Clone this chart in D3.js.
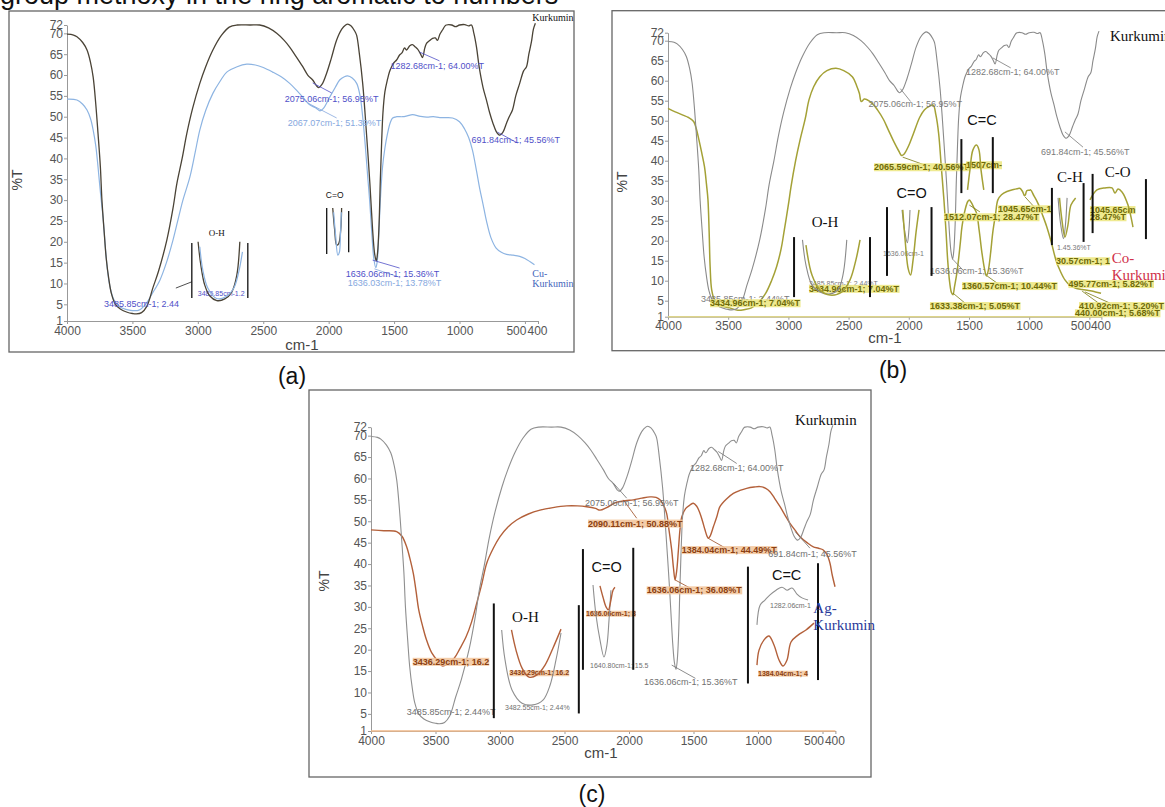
<!DOCTYPE html>
<html>
<head>
<meta charset="utf-8">
<script src="https://cdn.jsdelivr.net/npm/d3@7"></script>
<style>
  body { margin: 0; background: #fff; }
  svg { display: block; }
  text { font-family: Arial, "Liberation Sans", sans-serif; }
</style>
</head>
<body>
<svg id="chart" width="1165" height="807"></svg>
<script>
// ---- Axis ticks ----
const xTicks = [4000, 3500, 3000, 2500, 2000, 1500, 1000, 500, 400];
const yTicks = [1, 5, 10, 15, 20, 25, 30, 35, 40, 45, 50, 55, 60, 65, 70, 72];

// ---- Spectra: [wavenumber cm-1, %T] ----
const kurkumin = [[4000,69.8],[3950,69.6],[3924,69.2],[3880,67.8],[3847,66],[3820,63],[3800,59.5],[3780,53],[3763,46],[3745,38],[3733,30],[3715,22],[3700,16],[3680,11],[3660,7.5],[3630,5],[3590,3.8],[3540,3.1],[3500,2.8],[3470,2.7],[3430,3],[3390,4.5],[3343,9],[3300,13],[3237,20.4],[3190,28],[3160,34],[3120,40],[3084,46],[3040,52],[2985,58],[2940,62],[2885,66],[2820,69.5],[2760,71.5],[2700,72],[2600,72],[2527,72],[2460,71.3],[2397,70],[2340,68.3],[2298,66.7],[2250,64.5],[2198,62],[2160,60],[2122,58.8],[2090,57.3],[2075,57],[2050,57.8],[2015,60.5],[1980,64],[1939,68.4],[1900,71],[1870,72],[1855,72.2],[1830,71.8],[1800,70.5],[1786,69.5],[1765,65],[1740,58],[1720,50],[1702,42],[1685,34],[1672,27],[1660,21],[1648,17],[1636,15.4],[1626,17.5],[1615,24],[1605,35],[1595,44],[1585,51],[1570,56],[1550,59],[1535,60.8],[1519,62],[1500,63],[1481,63.6],[1458,64.8],[1440,65.3],[1420,66.5],[1405,66],[1380,67],[1360,67.3],[1340,66.8],[1320,66.2],[1300,65.2],[1283,64.2],[1265,66.5],[1252,67.6],[1230,68.2],[1206,68.8],[1185,68.9],[1168,68.3],[1150,69.8],[1130,70.8],[1110,71.8],[1100,72],[1060,72],[1030,71.6],[1000,72],[960,72.1],[930,71.8],[909,72],[890,70],[870,66.7],[850,62],[820,57],[794,54],[770,51],[745,48.5],[720,46.5],[700,45.7],[692,45.6],[670,46.2],[640,48.5],[620,50],[595,51.6],[570,55],[540,58],[510,61],[488,62],[470,65],[450,68],[435,71],[420,72.4]];

const cuKurkumin = [[4000,54.2],[3924,54],[3880,53],[3847,51.6],[3820,49.5],[3800,46.8],[3780,43],[3763,38],[3745,32],[3725,26],[3705,18],[3690,13],[3670,9],[3640,6],[3600,4.5],[3550,3.8],[3500,3.5],[3450,3.6],[3400,5],[3350,7.5],[3290,10.8],[3240,15],[3190,20.4],[3150,25.5],[3114,30],[3061,35.5],[3020,41.5],[2985,46.8],[2940,51.5],[2885,55.6],[2830,58.5],[2779,60.7],[2700,62],[2626,62.6],[2560,62.4],[2500,61.8],[2428,60.7],[2360,59.5],[2298,58],[2250,56.5],[2198,54.7],[2150,53],[2092,52],[2067,51.4],[2040,52],[1992,54.7],[1950,57],[1916,58.8],[1880,59.6],[1855,59.8],[1820,59.3],[1786,58],[1760,55],[1740,50],[1720,43],[1700,35],[1687,30],[1670,22],[1655,16],[1640,13.8],[1630,15],[1618,21],[1605,30],[1588,38],[1570,42.5],[1550,46],[1530,48.5],[1511,49.7],[1480,50],[1435,50],[1400,50.2],[1359,50.5],[1300,50.1],[1250,49.9],[1200,50],[1150,49.8],[1100,49.8],[1053,49.7],[1000,48.8],[960,47],[930,45],[901,42],[870,37],[847,33],[820,29],[794,25],[760,21],[720,18.5],[680,17.5],[640,17],[590,16.8],[540,16.5],[500,16],[460,15.2],[427,14.5]];

const coKurkumin = [[4000,53.1],[3940,52.2],[3876,51.4],[3830,50.8],[3787,49.8],[3765,48],[3743,45.2],[3720,42],[3697,38.5],[3680,34],[3668,30.2],[3658,22],[3650,13.5],[3637,7.7],[3610,5],[3560,3.8],[3487,3.2],[3420,2.6],[3360,2.8],[3307,3.2],[3250,4.5],[3188,6.9],[3140,10],[3098,13.5],[3060,18],[3038,21.9],[3000,29],[2978,33.5],[2940,40],[2903,45.2],[2860,50.5],[2829,55.2],[2790,58.5],[2739,61],[2680,62.5],[2605,63.1],[2540,62.5],[2469,61],[2430,58.5],[2410,56.8],[2395,54.8],[2370,55.4],[2350,55.3],[2300,54.2],[2260,52.7],[2210,50.3],[2170,47.7],[2120,44.5],[2081,42.3],[2060,41.3],[2040,41.6],[2000,43.8],[1961,46.8],[1910,50.8],[1871,52.7],[1830,53.6],[1797,53.9],[1775,51.5],[1752,46.8],[1730,38.5],[1708,30.2],[1690,22],[1677,15.2],[1660,9.5],[1645,7],[1633,6.5],[1620,8.5],[1600,12],[1587,15.2],[1570,20],[1558,23.5],[1530,28],[1510,29.8],[1497,30.2],[1480,29.5],[1460,28.3],[1437,26.9],[1415,22.5],[1392,16.9],[1370,12.8],[1355,11.2],[1340,12.5],[1320,17],[1303,21.9],[1280,26.5],[1260,30.2],[1230,31.5],[1185,32.3],[1130,32.8],[1100,33],[1078,33.1],[1055,32.3],[1040,31.3],[1032,31.4],[1020,32.5],[1000,32.6],[988,32.7],[960,31.2],[928,29.4],[890,26.5],[854,23.5],[815,19.5],[778,15.2],[740,12.3],[703,10.2],[660,8.8],[613,8.1],[560,7.8],[493,7.5],[450,7.2],[403,6.85]];

const agKurkumin = [[4000,48],[3900,47.8],[3801,47.6],[3760,46.5],[3723,44],[3700,41.5],[3672,37.8],[3650,33.5],[3631,29.5],[3600,25.5],[3570,22.3],[3530,19.3],[3478,17.2],[3447,16.2],[3410,16.6],[3355,18],[3310,20.3],[3263,23],[3220,26.5],[3181,30.8],[3140,35.5],[3103,40.2],[3050,43.8],[3000,46.4],[2940,48.6],[2871,50.3],[2780,51.7],[2690,52.6],[2590,53.2],[2483,53.6],[2400,53.6],[2328,53.4],[2260,53],[2225,52.6],[2173,53.2],[2100,54.4],[2030,54.8],[1966,55],[1900,55.4],[1837,55.7],[1790,55.6],[1760,55],[1730,53.6],[1708,51.8],[1690,48],[1669,43.3],[1655,39],[1643,36.3],[1630,38.5],[1617,43.3],[1605,48],[1591,51],[1560,53],[1527,53.8],[1501,54.2],[1475,53.5],[1450,51.9],[1430,50],[1411,48],[1395,46.5],[1385,46],[1370,46.6],[1346,48.7],[1320,51],[1295,53.4],[1240,55.3],[1191,56.5],[1140,57.2],[1088,57.7],[1030,58],[984,58.1],[940,57.7],[907,56.9],[870,55.3],[829,53.4],[790,51.4],[752,49.5],[710,47.8],[674,46.4],[620,45],[571,44],[530,43.7],[494,43.3],[465,42.2],[442,40.2],[425,37.5],[403,34.7]];

// ---- Inset fragments (drawn in the host panel's wavenumber / %T space) ----
const ohKurA = [[2998,20.0],[2977,14.4],[2947,9.6],[2908,7.0],[2855,5.9],[2794,6.3],[2740,8.0],[2702,12.0],[2679,20.0]];
const ohCuA = [[2985,18.8],[2962,13.2],[2924,8.9],[2857,6.4],[2786,6.8],[2725,8.9],[2687,12.8],[2659,17.6]];
const coKurA = [[1969,28.1],[1954,22.8],[1939,19.2],[1924,19.5],[1908,22.8],[1901,28.1]];
const coCuA = [[1962,27.1],[1947,21.6],[1930,16.8],[1918,17.5],[1910,21.6],[1903,27.1]];

const ohKurB = [[2883,20.2],[2854,13.9],[2804,8.9],[2738,7.2],[2654,6.7],[2588,7.7],[2547,11.4],[2515,20.2]];
const ohCoB = [[2854,18.9],[2804,11.4],[2738,7.7],[2654,6.4],[2555,7.2],[2488,10.2],[2439,15.2],[2405,20.2]];
const coKurB = [[2056,27.7],[2032,22],[2012,19.5],[1998,23],[1990,27.7]];
const coCoB = [[2050,27.7],[2030,20],[2005,13],[1985,11.4],[1965,15],[1940,22],[1915,27.7]];
const ccCoB = [[1512,32.7],[1492,37.7],[1467,42.7],[1437,43.9],[1417,42.7],[1400,37.7],[1377,32.7]];
const chKurB = [[760,30.7],[738,24],[715,20.5],[700,23.5],[685,30.7]];
const chCoB = [[748,30.7],[728,25.2],[703,20.9],[678,23.9],[653,28.9],[614,30.7]];
const cOCoB = [[495,30.2],[437,32.7],[370,33.2],[312,33.2],[287,31.9],[262,32.9],[229,32.2],[179,28.9],[138,23.4]];

const ohKurC = [[2987,24.6],[2961,17.6],[2907,10.6],[2829,7.5],[2744,7.1],[2667,8.2],[2612,11.7],[2566,17.6],[2527,23.9]];
const ohAgC = [[2911,24.6],[2876,19.9],[2829,15.7],[2775,13.6],[2713,14.1],[2651,16.4],[2589,20.4],[2527,24.8]];
const coKurC = [[2279,35.1],[2256,28.1],[2225,22.3],[2194,18.3],[2171,21.1],[2155,26.9],[2140,33.9]];
const coAgC = [[2225,34.9],[2202,32.3],[2178,30.0],[2160,29.3],[2140,31.6],[2124,33.9],[2109,34.6]];
const ccKurC = [[1008,25.8],[984,30.4],[946,31.6],[907,32.8],[860,33.9],[814,34.6],[775,33.9],[736,34.4],[698,33.0],[659,32.1],[612,31.6]];
const ccAgC = [[1008,16.4],[992,19.9],[953,22.3],[915,23.2],[876,21.1],[837,17.6],[806,16.2],[775,17.6],[744,21.8],[690,23.4],[628,24.6],[566,26.2]];

// ---- Inset brackets [wavenumber, %T top, %T bottom] and labels ----
const bracketsA = [[3046,19.7,6.5],[2618,19.7,6.5],[2015,28.1,17.1],[1847,27.4,17.5]];
const groupsA = [["O-H",2855,22.1],["C=O",1954,31.2]];
const bracketsB = [[2953,20.9,5.9],[2322,20.9,5.9],[2181,28.4,11.2],[1811,28.4,11.2],[1563,45.4,31.9],[1302,45.9,31.9],[811,33.2,18.9],[548,34.4,19.7],[473,36.7,21.9],[30,35.4,20.4]];
const groupsB = [["O-H",2696,24.7],["C=O",1976,31.9],["C=C",1392,50.2],["C-H",661,35.9],["C-O",264,37.2]];
const bracketsC = [[3048,30.8,4.0],[2389,30.4,5.1],[2357,43.5,15.3],[1967,43.8,15.3],[1078,39.4,12.1],[535,40.2,12.9]];
const groupsC = [["O-H",2803,27.7],["C=O",2173,39.4],["C=C",778,37.4]];

// ---- Peak notes [text, wavenumber, %T, kind] ----
const notesA = [
  ["2075.06cm-1; 56.95%T", 2335, 54.2, "k"],
  ["2067.07cm-1; 51.39%T", 2313, 48.5, "s"],
  ["1282.68cm-1; 64.00%T", 1527, 62.2, "k"],
  ["691.84cm-1; 45.56%T", 908, 44.4, "k"],
  ["1636.06cm-1; 15.36%T", 1870, 12.3, "k"],
  ["1636.03cm-1; 13.78%T", 1855, 10.1, "s"],
  ["3485.85cm-1; 2.44", 3718, 5.1, "k"],
  ["3485.85cm-1.2", 3000, 7.5, "kt"]
];
const notesB = [
  ["2075.06cm-1; 56.95%T", 2335, 54.2, "k"],
  ["1282.68cm-1; 64.00%T", 1525, 62.2, "k"],
  ["691.84cm-1; 45.56%T", 902, 42.2, "k"],
  ["2065.59cm-1; 40.56%T", 2289, 38.4, "h"],
  ["1507cm-", 1525, 38.9, "h"],
  ["1636.06cm-1", 2214, 16.7, "kt"],
  ["3485.85cm-1; 2.44%T", 2829, 9.2, "kt"],
  ["3434.96cm-1; 7.04%T", 2829, 8.0, "h"],
  ["1636.06cm-1; 15.36%T", 1824, 12.4, "k"],
  ["1512.07cm-1; 28.47%T", 1708, 25.9, "h"],
  ["1045.65cm-1", 1259, 27.9, "h"],
  ["1360.57cm-1; 10.44%T", 1558, 8.7, "h"],
  ["1633.38cm-1; 5.05%T", 1824, 3.7, "h"],
  ["30.57cm-1; 1", 777, 14.9, "h"],
  ["495.77cm-1; 5.82%T", 674, 9.2, "h"],
  ["410.92cm-1; 5.20%T", 586, 3.7, "h"],
  ["440.00cm-1; 5.68%T", 620, 1.9, "h"],
  ["3485.85cm-1; 2.44%T", 3726, 5.4, "k"],
  ["3434.96cm-1; 7.04%T", 3651, 4.4, "h"],
  ["1.45.36%T", 769, 18.4, "kt"],
  ["1045.65cm", 495, 27.7, "h"],
  ["28.47%T", 495, 25.9, "h"]
];
const notesC = [
  ["2075.06cm-1; 56.95%T", 2341, 54.2, "k"],
  ["2090.11cm-1; 50.88%T", 2318, 49.5, "h"],
  ["1282.68cm-1; 64.00%T", 1527, 62.4, "k"],
  ["1384.04cm-1; 44.49%T", 1591, 43.3, "h"],
  ["691.84cm-1; 45.56%T", 920, 42.5, "k"],
  ["1636.06cm-1; 36.08%T", 1863, 33.9, "h"],
  ["1636.06cm-1; 15.36%T", 1884, 12.5, "k"],
  ["3436.29cm-1; 16.2", 3677, 17.2, "h"],
  ["3485.85cm-1; 2.44%T", 3722, 5.4, "k"],
  ["3436.29cm-1; 16.2", 2926, 14.6, "ht"],
  ["3482.55cm-1; 2.44%", 2961, 6.4, "kt"],
  ["1636.06cm-1; 3", 2333, 28.5, "ht"],
  ["1640.80cm-1; 15.5", 2302, 16.2, "kt"],
  ["1282.06cm-1", 907, 30.4, "kt"],
  ["1384.04cm-1; 4", 1000, 14.5, "ht"]
];

// ---- Leader lines [w1, T1, w2, T2, kind] ----
const leadersA = [[2122,58.1,1977,55.7,"k"],[2160,53.3,1939,49.7,"s"],[1305,65.5,1153,63.4,"k"],[710,46.3,557,43.7,"k"],[1664,15.6,1458,13.7,"k"],[1650,13.5,1458,11.5,"s"],[3168,8.9,3046,10.4,"x"]];
const leadersB = [[2070,58,1985,54.8,"k"],[1302,65.7,1153,63.2,"k"],[703,47.2,553,43.4,"k"],[2051,40.9,1865,38.9,"s"],[1633,6.9,1533,4.4,"s"],[1350,11.2,1243,8.9,"s"],[1497,28.9,1409,27.2,"s"],[1036,31,960,28.5,"s"],[537,7.2,329,4.4,"s"],[560,7.4,360,3.0,"s"],[1636,15.4,1545,12.5,"k"]];
const leadersC = [[2121,58.9,2018,55.4,"k"],[2044,55,1940,50.7,"s"],[1308,66.3,1165,63.5,"k"],[1385,46,1256,43.8,"s"],[713,47.6,597,43.7,"k"],[1643,36.3,1527,34.4,"s"],[1669,16.4,1485,13.3,"k"]];

// ---- Panel layouts ----
const panels = [
  {
    box: [9, 11, 565, 341], xRange: [67, 538], yRange: [321, 25],
    series: cuKurkumin, kColor: "#4a4336", sColor: "#8db4e2", kWidth: 1.3, sWidth: 1.2,
    kNote: "#5050c8", sNote: "#86a8de", hlFill: "none", hlText: "#5050c8",
    baseColor: null, bracketWidth: 1.3, groupSize: 9,
    brackets: bracketsA, groups: groupsA, notes: notesA, leaders: leadersA,
    insets: [[ohKurA, "k"], [ohCuA, "s"], [coKurA, "k"], [coCuA, "s"]],
    names: [["Kurkumin", 443, 73.7, "k"], ["Cu-", 443, 12.5, "s"], ["Kurkumin", 443, 10.1, "s"]],
    nameSize: 10, nameColor: "#4466bb",
    yTitle: [17, 180], xTitle: [302, 350], letter: ["(a)", 292, 384]
  },
  {
    box: [612, 10.7, 620, 340], xRange: [668, 1101.4], yRange: [316.7, 32.7],
    series: coKurkumin, kColor: "#8a8a8a", sColor: "#a4a136", kWidth: 1.1, sWidth: 1.5,
    kNote: "#7a7a7a", sNote: "#7a7a10", hlFill: "#ece67e", hlText: "#6e6a08",
    baseColor: "#ddd48a", bracketWidth: 2, groupSize: 15,
    brackets: bracketsB, groups: groupsB, notes: notesB, leaders: leadersB,
    insets: [[ohKurB, "k"], [ohCoB, "s"], [coKurB, "k"], [coCoB, "s"], [ccCoB, "s"], [chKurB, "k"], [chCoB, "s"], [cOCoB, "s"]],
    names: [["Kurkumin", 329, 71.2, "k"], ["Co-", 315, 15.7, "s"], ["Kurkumin", 315, 11.4, "s"]],
    nameSize: 15, nameColor: "#d0304a",
    yTitle: [622, 182], xTitle: [885, 343], letter: ["(b)", 893, 378]
  },
  {
    box: [309, 390, 562, 387], xRange: [371, 835.4], yRange: [731, 427.1],
    series: agKurkumin, kColor: "#8f8f8f", sColor: "#b3603a", kWidth: 1.1, sWidth: 1.4,
    kNote: "#707070", sNote: "#9a4a20", hlFill: "#f2c49a", hlText: "#8b3f12",
    baseColor: "#efb88a", bracketWidth: 2, groupSize: 15,
    brackets: bracketsC, groups: groupsC, notes: notesC, leaders: leadersC,
    insets: [[ohKurC, "k"], [ohAgC, "s"], [coKurC, "k"], [coAgC, "s"], [ccKurC, "k"], [ccAgC, "s"]],
    names: [["Kurkumin", 713, 73.7, "k"], ["Ag-", 571, 29.7, "s"], ["Kurkumin", 571, 25.8, "s"]],
    nameSize: 15, nameColor: "#2a3a9a",
    yTitle: [324, 581], xTitle: [601, 758], letter: ["(c)", 592, 802]
  }
];

const svg = d3.select("#chart");

// Caption text cut off at the top edge of the page
svg.append("text").attr("x", 0).attr("y", 4)
  .style("font-size", "27px").attr("fill", "#111")
  .text("group methoxy in the ring aromatic to numbers");

// Helper Functions
function drawPanel(p) {
  const g = svg.append("g");
  const [bx, by, bw, bh] = p.box;
  g.append("rect").attr("x", bx).attr("y", by).attr("width", bw).attr("height", bh)
    .attr("fill", "#fff").attr("stroke", "#666").attr("stroke-width", 1.3);

  const x = d3.scaleLinear().domain([4000, 400]).range(p.xRange);
  const y = d3.scaleLinear().domain([1, 72]).range(p.yRange);

  const yAxis = g.append("g").attr("transform", `translate(${p.xRange[0]},0)`)
    .call(d3.axisLeft(y).tickValues(yTicks).tickSize(3).tickPadding(1).tickSizeOuter(0));
  const xAxis = g.append("g").attr("transform", `translate(0,${p.yRange[0]})`)
    .call(d3.axisBottom(x).tickValues(xTicks).tickSize(3).tickPadding(2).tickSizeOuter(0).tickFormat(d3.format("d")));
  [yAxis, xAxis].forEach(a => {
    a.select(".domain").attr("stroke", "#999");
    a.selectAll(".tick line").attr("stroke", "#999");
    a.selectAll(".tick text").attr("fill", "#555")
      .style("font-size", "12px").style("font-family", "Arial, sans-serif");
  });
  // the two last labels sit side by side ("500400") as in the instrument print-out
  xAxis.selectAll(".tick text").attr("dx", d => d === 500 ? -9 : d === 400 ? -1 : 0);

  if (p.baseColor) {
    g.append("line").attr("x1", x(4000)).attr("x2", x(400))
      .attr("y1", y(1)).attr("y2", y(1))
      .attr("stroke", p.baseColor).attr("stroke-width", 1.5);
  }

  const line = d3.line().x(d => x(d[0])).y(d => y(d[1])).curve(d3.curveCatmullRom.alpha(0.5));
  const color = k => k === "s" ? p.sColor : p.kColor;

  // main spectra
  g.append("path").datum(p.series).attr("d", line)
    .attr("fill", "none").attr("stroke", p.sColor).attr("stroke-width", p.sWidth);
  g.append("path").datum(kurkumin).attr("d", line)
    .attr("fill", "none").attr("stroke", p.kColor).attr("stroke-width", p.kWidth);

  // leader lines
  g.selectAll(".leader").data(p.leaders).join("line").attr("class", "leader")
    .attr("x1", d => x(d[0])).attr("y1", d => y(d[1]))
    .attr("x2", d => x(d[2])).attr("y2", d => y(d[3]))
    .attr("stroke", d => d[4] === "x" ? "#222" : d[4] === "s" ? p.sNote : p.kNote)
    .attr("stroke-width", 0.8);

  // peak notes
  p.notes.forEach(([t, w, T, kind]) => {
    const tiny = kind.endsWith("t");
    const hl = kind[0] === "h";
    const ng = g.append("g");
    const txt = ng.append("text").attr("x", x(w)).attr("y", y(T)).attr("dy", "0.35em")
      .style("font-size", tiny ? "7px" : "9px")
      .style("font-weight", hl ? "bold" : "normal")
      .attr("fill", hl ? p.hlText : kind[0] === "s" ? p.sNote : p.kNote)
      .text(t);
    if (hl && p.hlFill !== "none") {
      const bb = txt.node().getBBox();
      ng.insert("rect", "text").attr("x", bb.x).attr("y", bb.y + 1)
        .attr("width", bb.width).attr("height", bb.height - 2)
        .attr("fill", p.hlFill).attr("opacity", 0.85);
    }
  });

  // inset fragments
  p.insets.forEach(([pts, kind]) => {
    g.append("path").datum(pts).attr("d", line).attr("fill", "none")
      .attr("stroke", color(kind)).attr("stroke-width", kind === "s" ? p.sWidth : p.kWidth);
  });

  g.selectAll(".bracket").data(p.brackets).join("line").attr("class", "bracket")
    .attr("x1", d => x(d[0])).attr("x2", d => x(d[0]))
    .attr("y1", d => y(d[1])).attr("y2", d => y(d[2]))
    .attr("stroke", "#111").attr("stroke-width", p.bracketWidth);

  g.selectAll(".group").data(p.groups).join("text").attr("class", "group")
    .attr("x", d => x(d[1])).attr("y", d => y(d[2])).attr("dy", "0.35em")
    .attr("text-anchor", "middle").attr("fill", "#111")
    .style("font-size", d => (d[0].includes("=") ? p.groupSize - 0.5 : p.groupSize) + "px")
    .style("font-family", d => d[0].includes("=") ? "Arial, sans-serif" : "'Liberation Serif', 'Times New Roman', serif")
    .text(d => d[0]);

  // series names
  g.selectAll(".name").data(p.names).join("text").attr("class", "name")
    .attr("x", d => x(d[1])).attr("y", d => y(d[2])).attr("dy", "0.35em")
    .attr("fill", d => d[3] === "s" ? p.nameColor : "#111")
    .style("font-size", p.nameSize + "px")
    .style("font-family", "'Liberation Serif', 'Times New Roman', serif")
    .text(d => d[0]);

  // axis titles and panel letter
  g.append("text").attr("transform", `translate(${p.yTitle[0]},${p.yTitle[1]}) rotate(-90)`)
    .attr("text-anchor", "middle").attr("dy", "0.35em").attr("fill", "#444")
    .style("font-size", "14px").text("%T");
  g.append("text").attr("x", p.xTitle[0]).attr("y", p.xTitle[1])
    .attr("text-anchor", "middle").attr("fill", "#444")
    .style("font-size", "15px").text("cm-1");
  svg.append("text").attr("x", p.letter[1]).attr("y", p.letter[2])
    .attr("text-anchor", "middle").attr("fill", "#111")
    .style("font-size", "23px").text(p.letter[0]);
}

panels.forEach(drawPanel);
</script>
</body>
</html>
